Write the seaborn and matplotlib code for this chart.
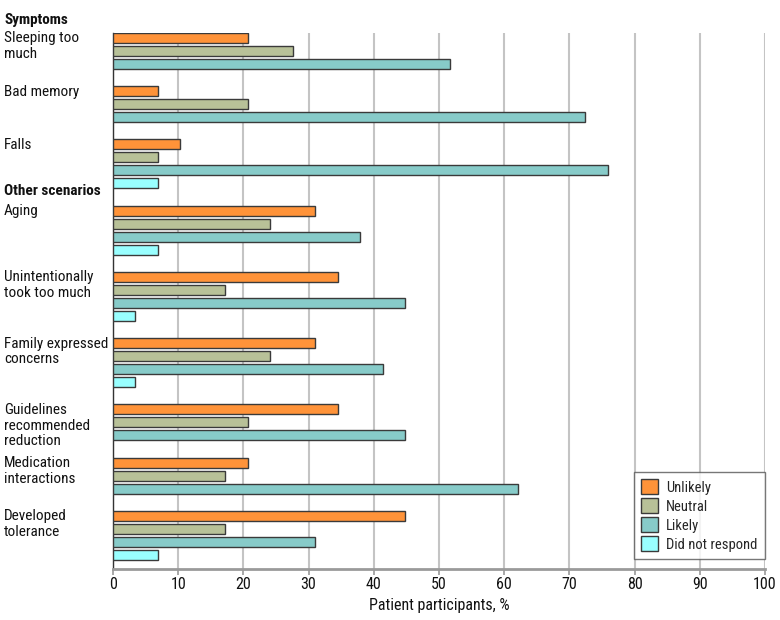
import matplotlib
matplotlib.use("Agg")
import matplotlib.pyplot as plt
import matplotlib.font_manager as fm
import seaborn as sns
import pandas as pd

# ---- data ----
categories = [
    "Sleeping too\nmuch", "Bad memory", "Falls",
    "Aging", "Unintentionally\ntook too much", "Family expressed\nconcerns",
    "Guidelines\nrecommended\nreduction", "Medication\ninteractions", "Developed\ntolerance",
]
section_titles = ["Symptoms", "Other scenarios"]
section_start = [0, 3]
responses = ["Unlikely", "Neutral", "Likely", "Did not respond"]
unlikely = [20.7, 6.9, 10.3, 31.0, 34.5, 31.0, 34.5, 20.7, 44.8]
neutral = [27.6, 20.7, 6.9, 24.1, 17.2, 24.1, 20.7, 17.2, 17.2]
likely = [51.7, 72.4, 75.9, 37.9, 44.8, 41.4, 44.8, 62.1, 31.0]
no_response = [None, None, 6.9, 6.9, 3.4, 3.4, None, None, 6.9]
x_ticks = [0, 10, 20, 30, 40, 50, 60, 70, 80, 90, 100]
x_label = "Patient participants, %"
colors = ["#FF9339", "#B8C198", "#87CBC9", "#99FFFF"]

# ---- font ----
avail = {f.name for f in fm.fontManager.ttflist}
fam = None
for cand in ["Liberation Sans Narrow", "Roboto Condensed", "Open Sans Condensed", "Lato", "Liberation Sans"]:
    if cand in avail:
        fam = cand
        break
sns.set_theme(style="white")
plt.rcParams["font.family"] = [fam, "DejaVu Sans"]

# ---- layout rows ----
GAP = 1.1
rows = []
group_top = []
pos = 0.0
for i, cat in enumerate(categories):
    vals = [unlikely[i], neutral[i], likely[i], no_response[i]]
    first = True
    for r, v in zip(responses, vals):
        if v is None:
            continue
        if first:
            group_top.append(pos)
            first = False
        rows.append({"category": cat, "response": r, "pct": v, "pos": pos})
        pos += 1.0
    pos += GAP
last_pos = pos - 1.0 - GAP
df = pd.DataFrame(rows)

BAR_W = 0.77
fig = plt.figure(figsize=(7.8, 6.2), dpi=100)
ax = fig.add_axes([113 / 780, 1 - 569 / 620, 652 / 780, 536 / 620])

sns.barplot(data=df, x="pct", y="pos", hue="response", hue_order=responses,
            palette=colors, saturation=1, orient="h", native_scale=True, dodge=False,
            width=BAR_W, errorbar=None, edgecolor="#3a3a3a", linewidth=1.0,
            ax=ax, zorder=3)

ax.set_xlim(0, 100)
ax.set_ylim(last_pos + BAR_W / 2 + 0.7, -BAR_W / 2)
ax.set_xticks(x_ticks)
ax.set_xticklabels([str(t) for t in x_ticks], fontsize=11.5, color="#111111")
ax.set_yticks([])
ax.set_ylabel("")
ax.set_xlabel(x_label, fontsize=11.5, color="#111111", labelpad=4)
ax.xaxis.grid(True, color="#c4c4c4", linewidth=1.5, zorder=0)
ax.set_axisbelow(True)
for s in ["top", "right"]:
    ax.spines[s].set_visible(False)
ax.spines["left"].set_color("#333333")
ax.spines["left"].set_linewidth(1.0)
ax.spines["bottom"].set_color("#9a9a9a")
ax.spines["bottom"].set_linewidth(2.0)
ax.tick_params(axis="x", bottom=True, length=4, width=1.2, color="#9a9a9a", pad=2)

# category labels
trans = ax.get_yaxis_transform()
for cat, top in zip(categories, group_top):
    ax.text(-0.167, top - BAR_W / 2 - 0.12, cat, transform=trans, ha="left", va="top",
            fontsize=11, color="#111111", linespacing=1.15, clip_on=False)
# section headers
for title, gi, off in zip(section_titles, section_start, [1.4, 1.55]):
    ax.text(-0.167, group_top[gi] - off, title, transform=trans, ha="left", va="center",
            fontsize=11, fontweight="bold", color="#111111", clip_on=False)

leg = ax.legend(loc="lower right", bbox_to_anchor=(1.0, 10 / 536), frameon=True,
                fancybox=False, edgecolor="#555555", fontsize=10.5, handlelength=1.2,
                handleheight=1.2, borderpad=0.5, labelspacing=0.25, handletextpad=0.55,
                borderaxespad=0)
leg.get_frame().set_linewidth(1.0)

fig.savefig("out.png", dpi=100)
